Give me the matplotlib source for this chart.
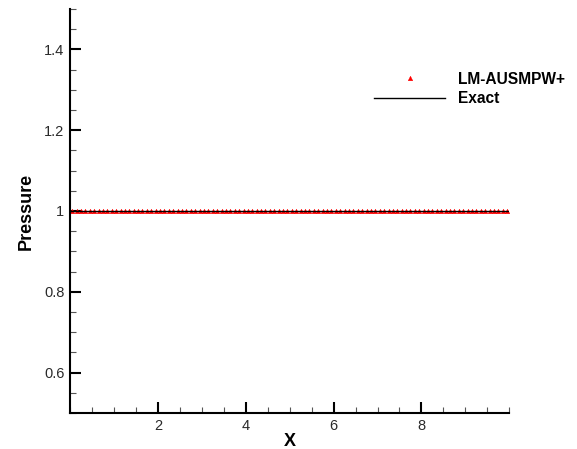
import numpy as np
import matplotlib
matplotlib.use("Agg")
import matplotlib.pyplot as plt
from matplotlib.ticker import MultipleLocator, FixedLocator, FormatStrFormatter

plt.rcParams['font.family'] = ['Liberation Sans', 'DejaVu Sans']

# Numerical solution: 100 cell centres on [0, 10], pressure stays at 1
x_cells = np.arange(0.05, 10.0, 0.1)
p_numeric = [1.0] * 100

# Exact solution
x_exact = [0.0, 10.0]
p_exact = [1.0, 1.0]

x_major = [2, 4, 6, 8]
y_major = [0.6, 0.8, 1.0, 1.2, 1.4]

fig = plt.figure(figsize=(5.77, 4.49), dpi=100)
ax = fig.add_axes([0.1213, 0.0802, 0.7614, 0.8998])

ax.plot(x_cells, p_numeric, linestyle='none', marker='^', markersize=3.3,
        color='red', markeredgewidth=0.3, label='LM-AUSMPW+', zorder=2)
ax.plot(x_exact, p_exact, color='black', linewidth=1.0, label='Exact', zorder=3)

ax.set_xlim(0, 10)
ax.set_ylim(0.5, 1.5)

ax.xaxis.set_major_locator(FixedLocator(x_major))
ax.xaxis.set_minor_locator(MultipleLocator(0.5))
ax.yaxis.set_major_locator(FixedLocator(y_major))
ax.yaxis.set_minor_locator(MultipleLocator(0.05))
ax.yaxis.set_major_formatter(FormatStrFormatter('%g'))

for side in ('top', 'right'):
    ax.spines[side].set_visible(False)
for side in ('left', 'bottom'):
    ax.spines[side].set_linewidth(1.5)

ax.tick_params(which='major', direction='in', length=8, width=1.5,
               labelsize=10.5, pad=4, colors='black', labelcolor='#2a2a2a')
ax.tick_params(which='minor', direction='in', length=4.5, width=0.8,
               color='#555555')

ax.set_xlabel('X', fontsize=13, fontweight='bold', labelpad=0)
ax.set_ylabel('Pressure', fontsize=13, fontweight='bold', labelpad=7)

leg = ax.legend(loc='upper left', bbox_to_anchor=(366 / 577, 1 - 64 / 449),
                bbox_transform=fig.transFigure, frameon=False, borderpad=0,
                handlelength=4.6, handletextpad=0.84, labelspacing=0.3,
                prop={'weight': 'bold', 'size': 11.2})

fig.savefig('out.png', dpi=100)
